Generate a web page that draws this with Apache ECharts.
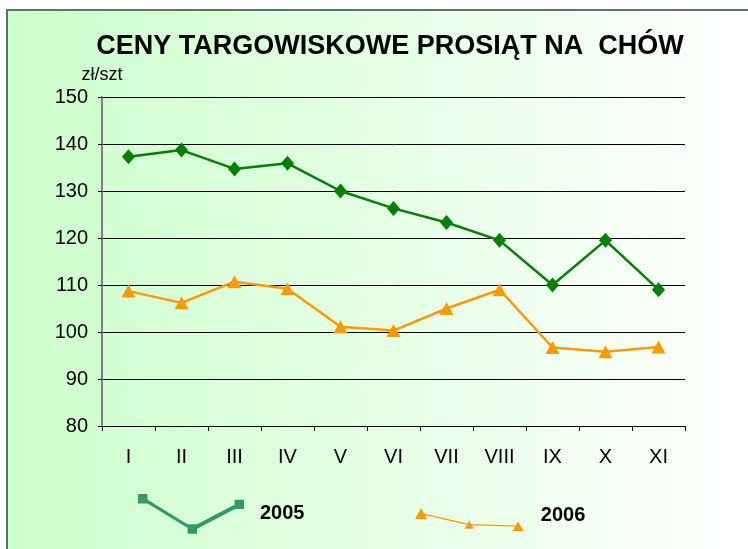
<!DOCTYPE html>
<html>
<head>
<meta charset="utf-8">
<script src="https://cdn.jsdelivr.net/npm/echarts@6/dist/echarts.min.js"></script>
<style>
  html, body { margin: 0; padding: 0; background: #fff; }
  #chart { width: 748px; height: 549px; }
</style>
</head>
<body>
<div id="chart"></div>
<script>
const months = ['I', 'II', 'III', 'IV', 'V', 'VI', 'VII', 'VIII', 'IX', 'X', 'XI'];
const prices2005 = [137.3, 138.7, 134.7, 135.9, 130, 126.3, 123.3, 119.5, 110, 119.5, 109];
const prices2006 = [108.7, 106.2, 110.7, 109.2, 101.1, 100.3, 105, 109, 96.7, 95.8, 96.8];
const yTicks = [80, 90, 100, 110, 120, 130, 140, 150];

const font = 'Liberation Sans, Arial, sans-serif';

// legend icons: polygons all wound the same way so nonzero fill leaves no holes
function poly(pts) {
  let area = 0;
  for (let i = 0; i < pts.length; i++) {
    const a = pts[i], b = pts[(i + 1) % pts.length];
    area += a[0] * b[1] - b[0] * a[1];
  }
  if (area < 0) pts = pts.slice().reverse();
  return 'M' + pts.map(p => p[0].toFixed(2) + ',' + p[1].toFixed(2)).join('L') + 'Z';
}
function band(a, b, w) {
  const dx = b[0] - a[0], dy = b[1] - a[1];
  const len = Math.sqrt(dx * dx + dy * dy);
  const nx = -dy / len * w / 2, ny = dx / len * w / 2;
  return poly([[a[0] + nx, a[1] + ny], [b[0] + nx, b[1] + ny], [b[0] - nx, b[1] - ny], [a[0] - nx, a[1] - ny]]);
}
function square(p, h) {
  return poly([[p[0] - h, p[1] - h], [p[0] + h, p[1] - h], [p[0] + h, p[1] + h], [p[0] - h, p[1] + h]]);
}
function tri(p, w, h) {
  return poly([[p[0], p[1] - h / 2], [p[0] + w / 2, p[1] + h / 2], [p[0] - w / 2, p[1] + h / 2]]);
}
const pts05 = [[4.7, 4.7], [54.3, 35], [101.3, 10.4]];
const icon05 = 'path://' + band(pts05[0], pts05[1], 3.2) + band(pts05[1], pts05[2], 4) +
  pts05.map(p => square(p, 4.7)).join('');
const pts06 = [[6.5, 6.5], [54.3, 17.5], [102.7, 19]];
// the empty point at y=-8 only stretches the icon box up, so the label sits higher
const icon06 = 'path://M54,-8L54.01,-8Z' + band(pts06[0], pts06[1], 1.3) + band(pts06[1], pts06[2], 1.3) +
  tri(pts06[0], 12, 11) + tri(pts06[1], 9, 8) + tri(pts06[2], 11, 9.5);

const chart = echarts.init(document.getElementById('chart'));
chart.setOption({
  backgroundColor: '#fff',
  animation: false,
  graphic: [{
    type: 'rect', z: -10,
    shape: { x: 7, y: 10, width: 760, height: 560 },
    style: {
      fill: new echarts.graphic.LinearGradient(0, 0, 1, 0, [
        { offset: 0, color: '#ccffcc' },
        { offset: 1, color: '#ffffff' }
      ]),
      stroke: '#5f7468', lineWidth: 2
    }
  }],
  title: {
    text: 'CENY TARGOWISKOWE PROSIĄT NA  CHÓW',
    left: 390, top: 33, textAlign: 'center', padding: 0,
    textStyle: { fontFamily: font, fontSize: 27, fontWeight: 'bold', color: '#000' }
  },
  legend: [{
    data: [{ name: '2005', icon: icon05 }],
    left: 138, top: 494, padding: 0,
    itemWidth: 106, itemHeight: 40,
    itemStyle: { color: '#339966', borderWidth: 0 },
    textStyle: { fontFamily: font, fontSize: 20, fontWeight: 'bold', color: '#000', padding: [0, 0, 0, 11] }
  }, {
    data: [{ name: '2006', icon: icon06 }],
    left: 415, top: 499, padding: 0,
    itemWidth: 109, itemHeight: 32,
    itemStyle: { color: '#ff9900', borderWidth: 0 },
    textStyle: { fontFamily: font, fontSize: 20, fontWeight: 'bold', color: '#000', padding: [0, 0, 0, 12] }
  }],
  grid: { left: 102, right: 63, top: 97, bottom: 123 },
  xAxis: {
    type: 'category',
    data: months,
    boundaryGap: true,
    axisLine: { lineStyle: { color: '#000', width: 1 } },
    axisTick: { show: true, length: 5, lineStyle: { color: '#000' } },
    axisLabel: { fontFamily: font, fontSize: 20, color: '#000', margin: 21 },
    splitLine: { show: false }
  },
  yAxis: {
    type: 'value',
    min: yTicks[0], max: yTicks[yTicks.length - 1], interval: 10,
    name: 'zł/szt',
    nameLocation: 'end',
    nameGap: 13,
    nameTextStyle: { fontFamily: font, fontSize: 18, color: '#000', align: 'center' },
    axisLine: { show: true, lineStyle: { color: '#7f7f7f', width: 2 } },
    axisTick: { show: true, length: 4, lineStyle: { color: '#000' } },
    axisLabel: { fontFamily: font, fontSize: 20, color: '#000', margin: 14 },
    splitLine: { show: true, lineStyle: { color: '#000', width: 1 } }
  },
  series: [{
    name: '2005',
    type: 'line',
    data: prices2005,
    symbol: 'diamond',
    symbolSize: [13, 15],
    color: '#008000',
    lineStyle: { color: '#008000', width: 2.5 },
    itemStyle: { color: '#008000' },
    z: 3
  }, {
    name: '2006',
    type: 'line',
    data: prices2006,
    symbol: 'triangle',
    symbolSize: [14, 13],
    color: '#ff9900',
    lineStyle: { color: '#ff9900', width: 2.5 },
    itemStyle: { color: '#ff9900' },
    z: 2
  }]
});
</script>
</body>
</html>
